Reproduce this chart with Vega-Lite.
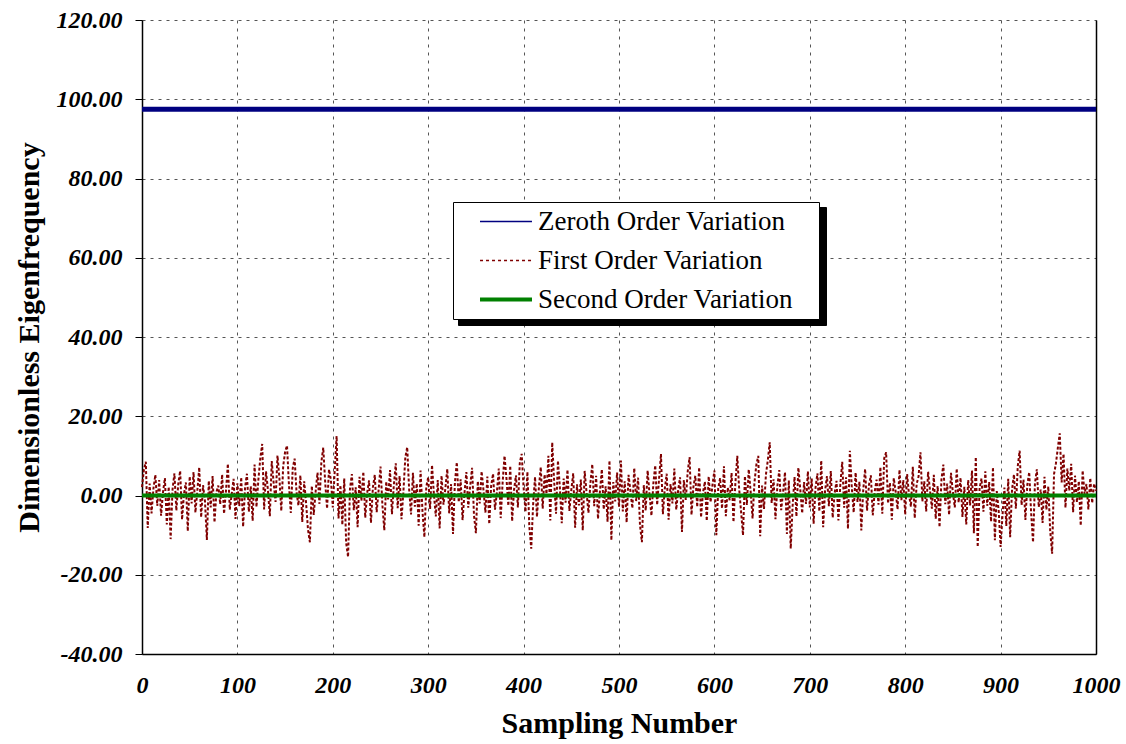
{
"$schema": "https://vega.github.io/schema/vega-lite/v6.json",
"width": 954,
"height": 634,
"autosize": {"type": "none"},
"padding": {"left": 142, "top": 20, "right": 30, "bottom": 90},
"background": "white",
"config": {"view": {"stroke": null}, "font": "Liberation Serif",
"legend": {"orient": "none", "padding": 6, "symbolType": "stroke", "symbolSize": 2700, "symbolOffset": 33.5, "symbolStrokeWidth": 2,
"labelFont": "Liberation Serif", "labelFontSize": 27, "labelColor": "black", "labelOffset": 18.5, "labelLimit": 500, "rowPadding": 11}},
"datasets": {
"first": [
{"x":0,"y":2.1},{"x":2,"y":6.5},{"x":4,"y":8.5},{"x":6,"y":-8.2},{"x":8,"y":3.0},{"x":10,"y":-4.5},{"x":12,"y":1.8},{"x":14,"y":5.2},{"x":16,"y":-2.6},{"x":18,"y":3.9},
{"x":20,"y":-5.1},{"x":22,"y":0.8},{"x":24,"y":4.4},{"x":26,"y":-7.3},{"x":28,"y":2.2},{"x":30,"y":-11.0},{"x":32,"y":1.5},{"x":34,"y":5.6},{"x":36,"y":-3.8},{"x":38,"y":2.9},
{"x":40,"y":6.2},{"x":42,"y":-6.1},{"x":44,"y":0.4},{"x":46,"y":3.3},{"x":48,"y":-9.0},{"x":50,"y":4.8},{"x":52,"y":-2.0},{"x":54,"y":5.9},{"x":56,"y":-4.3},{"x":58,"y":1.2},
{"x":60,"y":7.1},{"x":62,"y":-5.5},{"x":64,"y":2.6},{"x":66,"y":-1.4},{"x":68,"y":-11.2},{"x":70,"y":3.7},{"x":72,"y":-3.0},{"x":74,"y":4.9},{"x":76,"y":-6.8},{"x":78,"y":0.9},
{"x":80,"y":2.5},{"x":82,"y":-2.2},{"x":84,"y":5.3},{"x":86,"y":-4.6},{"x":88,"y":1.1},{"x":90,"y":8.0},{"x":92,"y":-3.6},{"x":94,"y":0.3},{"x":96,"y":4.2},{"x":98,"y":-5.9},
{"x":100,"y":3.1},{"x":102,"y":-2.7},{"x":104,"y":4.6},{"x":106,"y":-7.9},{"x":108,"y":1.9},{"x":110,"y":5.5},{"x":112,"y":-4.1},{"x":114,"y":2.3},{"x":116,"y":-6.4},{"x":118,"y":7.8},
{"x":120,"y":-2.9},{"x":122,"y":4.0},{"x":124,"y":9.4},{"x":126,"y":13.0},{"x":128,"y":-3.5},{"x":130,"y":6.1},{"x":132,"y":1.4},{"x":134,"y":-5.2},{"x":136,"y":8.7},{"x":138,"y":3.2},
{"x":140,"y":-1.6},{"x":142,"y":10.1},{"x":144,"y":4.5},{"x":146,"y":-3.9},{"x":148,"y":7.4},{"x":150,"y":11.0},{"x":152,"y":12.6},{"x":154,"y":2.8},{"x":156,"y":-4.4},{"x":158,"y":6.9},
{"x":160,"y":9.3},{"x":162,"y":0.7},{"x":164,"y":-2.5},{"x":166,"y":5.1},{"x":168,"y":-6.7},{"x":170,"y":3.6},{"x":172,"y":-1.9},{"x":174,"y":-8.6},{"x":176,"y":-11.8},{"x":178,"y":2.4},
{"x":180,"y":-4.9},{"x":182,"y":1.0},{"x":184,"y":5.8},{"x":186,"y":-2.1},{"x":188,"y":8.4},{"x":190,"y":12.1},{"x":192,"y":3.4},{"x":194,"y":-3.3},{"x":196,"y":6.6},{"x":198,"y":4.0},
{"x":200,"y":-3.0},{"x":202,"y":6.2},{"x":204,"y":15.0},{"x":206,"y":-5.8},{"x":208,"y":2.6},{"x":210,"y":-7.4},{"x":212,"y":4.3},{"x":214,"y":-12.0},{"x":216,"y":-15.5},{"x":218,"y":1.7},
{"x":220,"y":5.4},{"x":222,"y":-3.7},{"x":224,"y":2.1},{"x":226,"y":-8.0},{"x":228,"y":4.7},{"x":230,"y":-1.3},{"x":232,"y":6.0},{"x":234,"y":-5.6},{"x":236,"y":0.6},{"x":238,"y":3.8},
{"x":240,"y":-6.9},{"x":242,"y":2.0},{"x":244,"y":5.2},{"x":246,"y":-4.2},{"x":248,"y":1.3},{"x":250,"y":7.3},{"x":252,"y":-2.4},{"x":254,"y":-8.8},{"x":256,"y":3.5},{"x":258,"y":-1.0},
{"x":260,"y":6.4},{"x":262,"y":-4.7},{"x":264,"y":2.7},{"x":266,"y":8.1},{"x":268,"y":-3.2},{"x":270,"y":4.9},{"x":272,"y":-6.0},{"x":274,"y":0.9},{"x":276,"y":9.6},{"x":278,"y":12.2},
{"x":280,"y":1.6},{"x":282,"y":-4.8},{"x":284,"y":5.7},{"x":286,"y":-2.8},{"x":288,"y":3.0},{"x":290,"y":-7.6},{"x":292,"y":6.3},{"x":294,"y":-4.0},{"x":296,"y":-10.5},{"x":298,"y":2.2},
{"x":300,"y":4.6},{"x":302,"y":-3.4},{"x":304,"y":7.7},{"x":306,"y":0.2},{"x":308,"y":-5.3},{"x":310,"y":3.9},{"x":312,"y":-8.3},{"x":314,"y":5.0},{"x":316,"y":-2.3},{"x":318,"y":1.8},
{"x":320,"y":6.7},{"x":322,"y":-4.5},{"x":324,"y":2.9},{"x":326,"y":-9.7},{"x":328,"y":3.3},{"x":330,"y":8.4},{"x":332,"y":-1.7},{"x":334,"y":4.1},{"x":336,"y":-6.2},{"x":338,"y":0.5},
{"x":340,"y":5.9},{"x":342,"y":-3.1},{"x":344,"y":2.4},{"x":346,"y":7.0},{"x":348,"y":-5.0},{"x":350,"y":-9.5},{"x":352,"y":3.6},{"x":354,"y":-2.0},{"x":356,"y":6.1},{"x":358,"y":1.2},
{"x":360,"y":-4.3},{"x":362,"y":4.8},{"x":364,"y":-7.2},{"x":366,"y":2.5},{"x":368,"y":5.5},{"x":370,"y":-3.6},{"x":372,"y":0.8},{"x":374,"y":6.8},{"x":376,"y":-5.7},{"x":378,"y":3.2},
{"x":380,"y":10.0},{"x":382,"y":4.4},{"x":384,"y":-2.6},{"x":386,"y":7.5},{"x":388,"y":-6.5},{"x":390,"y":1.5},{"x":392,"y":5.1},{"x":394,"y":-3.0},{"x":396,"y":8.2},{"x":398,"y":10.5},
{"x":400,"y":2.0},{"x":402,"y":-4.1},{"x":404,"y":6.0},{"x":406,"y":-7.8},{"x":408,"y":-13.4},{"x":410,"y":-2.2},{"x":412,"y":4.7},{"x":414,"y":-5.4},{"x":416,"y":1.9},{"x":418,"y":7.2},
{"x":420,"y":-3.3},{"x":422,"y":5.3},{"x":424,"y":0.4},{"x":426,"y":10.0},{"x":428,"y":-6.3},{"x":430,"y":13.4},{"x":432,"y":3.7},{"x":434,"y":-4.6},{"x":436,"y":8.8},{"x":438,"y":2.1},
{"x":440,"y":-7.0},{"x":442,"y":4.3},{"x":444,"y":-1.8},{"x":446,"y":6.5},{"x":448,"y":-3.9},{"x":450,"y":1.4},{"x":452,"y":5.6},{"x":454,"y":-8.1},{"x":456,"y":2.8},{"x":458,"y":-2.5},
{"x":460,"y":4.0},{"x":462,"y":-8.8},{"x":464,"y":6.2},{"x":466,"y":0.7},{"x":468,"y":-4.4},{"x":470,"y":3.1},{"x":472,"y":7.9},{"x":474,"y":-2.7},{"x":476,"y":5.0},{"x":478,"y":-5.9},
{"x":480,"y":1.0},{"x":482,"y":6.6},{"x":484,"y":-3.5},{"x":486,"y":2.3},{"x":488,"y":-6.6},{"x":490,"y":8.8},{"x":492,"y":-11.3},{"x":494,"y":3.4},{"x":496,"y":-1.5},{"x":498,"y":5.8},
{"x":500,"y":-2.9},{"x":502,"y":8.8},{"x":504,"y":-4.0},{"x":506,"y":3.6},{"x":508,"y":-6.8},{"x":510,"y":5.2},{"x":512,"y":1.1},{"x":514,"y":-3.2},{"x":516,"y":6.9},{"x":518,"y":-1.4},
{"x":520,"y":4.5},{"x":522,"y":-7.5},{"x":524,"y":-11.8},{"x":526,"y":2.6},{"x":528,"y":-3.8},{"x":530,"y":6.3},{"x":532,"y":0.3},{"x":534,"y":-5.1},{"x":536,"y":3.0},{"x":538,"y":7.6},
{"x":540,"y":-2.4},{"x":542,"y":4.2},{"x":544,"y":10.5},{"x":546,"y":-4.7},{"x":548,"y":1.7},{"x":550,"y":5.5},{"x":552,"y":-6.1},{"x":554,"y":2.9},{"x":556,"y":-2.0},{"x":558,"y":6.8},
{"x":560,"y":-3.6},{"x":562,"y":1.3},{"x":564,"y":4.6},{"x":566,"y":-9.2},{"x":568,"y":3.9},{"x":570,"y":-1.1},{"x":572,"y":6.0},{"x":574,"y":9.7},{"x":576,"y":-4.9},{"x":578,"y":2.2},
{"x":580,"y":5.0},{"x":582,"y":-2.9},{"x":584,"y":7.1},{"x":586,"y":-5.5},{"x":588,"y":0.6},{"x":590,"y":3.5},{"x":592,"y":-6.4},{"x":594,"y":4.8},{"x":596,"y":-1.7},{"x":598,"y":2.7},
{"x":600,"y":6.3},{"x":602,"y":-10.0},{"x":604,"y":1.8},{"x":606,"y":4.4},{"x":608,"y":-3.3},{"x":610,"y":7.4},{"x":612,"y":-5.2},{"x":614,"y":2.0},{"x":616,"y":-1.2},{"x":618,"y":5.7},
{"x":620,"y":-6.7},{"x":622,"y":3.1},{"x":624,"y":10.0},{"x":626,"y":1.5},{"x":628,"y":-4.2},{"x":630,"y":-10.0},{"x":632,"y":4.9},{"x":634,"y":-2.4},{"x":636,"y":6.6},{"x":638,"y":0.9},
{"x":640,"y":-5.8},{"x":642,"y":3.3},{"x":644,"y":7.8},{"x":646,"y":10.0},{"x":648,"y":-10.3},{"x":650,"y":2.5},{"x":652,"y":-3.4},{"x":654,"y":5.3},{"x":656,"y":8.9},{"x":658,"y":13.4},
{"x":660,"y":-1.9},{"x":662,"y":4.1},{"x":664,"y":-6.0},{"x":666,"y":2.4},{"x":668,"y":6.4},{"x":670,"y":-3.7},{"x":672,"y":0.8},{"x":674,"y":5.9},{"x":676,"y":-9.7},{"x":678,"y":3.8},
{"x":680,"y":-13.4},{"x":682,"y":-2.6},{"x":684,"y":4.7},{"x":686,"y":-5.3},{"x":688,"y":7.0},{"x":690,"y":1.6},{"x":692,"y":-4.5},{"x":694,"y":3.4},{"x":696,"y":-2.1},{"x":698,"y":6.1},
{"x":700,"y":-3.0},{"x":702,"y":4.3},{"x":704,"y":-7.1},{"x":706,"y":2.0},{"x":708,"y":5.6},{"x":710,"y":-4.0},{"x":712,"y":8.8},{"x":714,"y":-8.0},{"x":716,"y":1.2},{"x":718,"y":4.9},
{"x":720,"y":-2.7},{"x":722,"y":6.2},{"x":724,"y":-5.6},{"x":726,"y":0.5},{"x":728,"y":3.7},{"x":730,"y":-6.3},{"x":732,"y":2.8},{"x":734,"y":8.5},{"x":736,"y":-3.1},{"x":738,"y":4.6},
{"x":740,"y":-8.4},{"x":742,"y":11.3},{"x":744,"y":2.1},{"x":746,"y":-4.3},{"x":748,"y":5.8},{"x":750,"y":-1.6},{"x":752,"y":3.5},{"x":754,"y":-8.8},{"x":756,"y":1.4},{"x":758,"y":6.7},
{"x":760,"y":-3.8},{"x":762,"y":2.6},{"x":764,"y":5.1},{"x":766,"y":-5.0},{"x":768,"y":0.9},{"x":770,"y":4.0},{"x":772,"y":-2.3},{"x":774,"y":7.2},{"x":776,"y":-4.6},{"x":778,"y":9.4},
{"x":780,"y":10.9},{"x":782,"y":-2.0},{"x":784,"y":3.2},{"x":786,"y":-6.1},{"x":788,"y":4.4},{"x":790,"y":1.0},{"x":792,"y":-3.5},{"x":794,"y":6.5},{"x":796,"y":-1.2},{"x":798,"y":3.9},
{"x":800,"y":-4.8},{"x":802,"y":5.4},{"x":804,"y":0.2},{"x":806,"y":-2.8},{"x":808,"y":7.3},{"x":810,"y":-5.7},{"x":812,"y":2.9},{"x":814,"y":4.8},{"x":816,"y":10.9},{"x":818,"y":-1.5},
{"x":820,"y":3.6},{"x":822,"y":-4.0},{"x":824,"y":6.0},{"x":826,"y":1.3},{"x":828,"y":-3.3},{"x":830,"y":5.2},{"x":832,"y":-5.9},{"x":834,"y":2.4},{"x":836,"y":-8.0},{"x":838,"y":4.1},
{"x":840,"y":7.8},{"x":842,"y":-2.2},{"x":844,"y":3.0},{"x":846,"y":-4.9},{"x":848,"y":5.7},{"x":850,"y":0.7},{"x":852,"y":-3.0},{"x":854,"y":6.8},{"x":856,"y":-1.8},{"x":858,"y":4.5},
{"x":860,"y":-5.4},{"x":862,"y":2.2},{"x":864,"y":-7.3},{"x":866,"y":3.9},{"x":868,"y":-2.5},{"x":870,"y":6.3},{"x":872,"y":-9.5},{"x":874,"y":9.7},{"x":876,"y":-13.0},{"x":878,"y":1.9},
{"x":880,"y":4.3},{"x":882,"y":-4.1},{"x":884,"y":6.1},{"x":886,"y":-2.6},{"x":888,"y":3.4},{"x":890,"y":-6.6},{"x":892,"y":7.1},{"x":894,"y":-11.3},{"x":896,"y":1.1},{"x":898,"y":-3.9},
{"x":900,"y":-13.0},{"x":902,"y":-5.0},{"x":904,"y":2.0},{"x":906,"y":-7.7},{"x":908,"y":4.2},{"x":910,"y":-10.5},{"x":912,"y":1.6},{"x":914,"y":5.3},{"x":916,"y":-3.3},{"x":918,"y":7.4},
{"x":920,"y":11.3},{"x":922,"y":-2.4},{"x":924,"y":4.0},{"x":926,"y":-6.2},{"x":928,"y":2.7},{"x":930,"y":5.9},{"x":932,"y":-4.4},{"x":934,"y":-11.8},{"x":936,"y":3.1},{"x":938,"y":6.6},
{"x":940,"y":-2.9},{"x":942,"y":1.5},{"x":944,"y":-6.9},{"x":946,"y":4.7},{"x":948,"y":-3.6},{"x":950,"y":2.3},{"x":952,"y":-9.0},{"x":954,"y":-14.7},{"x":956,"y":5.4},{"x":958,"y":8.1},
{"x":960,"y":12.0},{"x":962,"y":15.7},{"x":964,"y":3.3},{"x":966,"y":10.5},{"x":968,"y":-3.1},{"x":970,"y":6.8},{"x":972,"y":1.2},{"x":974,"y":8.0},{"x":976,"y":-4.2},{"x":978,"y":5.0},
{"x":980,"y":-1.7},{"x":982,"y":3.6},{"x":984,"y":-7.6},{"x":986,"y":6.3},{"x":988,"y":0.4},{"x":990,"y":2.9},{"x":992,"y":-3.5},{"x":994,"y":4.4},{"x":996,"y":-1.9},{"x":998,"y":3.0},
{"x":1000,"y":1.2}
],
"flat": [
{"series":"Second Order Variation","x":0,"y":0},
{"series":"Second Order Variation","x":1000,"y":0},
{"series":"Zeroth Order Variation","x":0,"y":97.5},
{"series":"Zeroth Order Variation","x":1000,"y":97.5}
]
},
"layer": [
{
"layer": [
{
"data": {"name": "first"},
"mark": {"type": "line", "strokeWidth": 2, "strokeDash": [3, 2], "interpolate": "linear"},
"encoding": {
"x": {"field": "x", "type": "quantitative",
"scale": {"domain": [0, 1000], "nice": false, "zero": false},
"axis": {"values": [0,100,200,300,400,500,600,700,800,900,1000], "format": "d", "labelFlush": false,
"title": "Sampling Number", "titleFont": "Liberation Serif", "titleFontSize": 30, "titleFontWeight": "bold", "titleColor": "black", "titlePadding": 11,
"labelFont": "Liberation Serif", "labelFontSize": 24, "labelFontWeight": "bold", "labelFontStyle": "italic", "labelColor": "black", "labelPadding": 19,
"ticks": false, "domainColor": "black", "domainWidth": 1.5,
"grid": true, "gridColor": "#555555", "gridDash": [3, 5], "gridWidth": 1}},
"y": {"field": "y", "type": "quantitative",
"scale": {"domain": [-40, 120], "nice": false, "zero": false},
"axis": {"values": [-40,-20,0,20,40,60,80,100,120], "labelExpr": "replace(format(datum.value, '.2f'), '\u2212', '-')",
"title": "Dimensionless Eigenfrequency", "titleFont": "Liberation Serif", "titleFontSize": 30, "titleFontWeight": "bold", "titleColor": "black", "titlePadding": 12,
"labelFont": "Liberation Serif", "labelFontSize": 24, "labelFontWeight": "bold", "labelFontStyle": "italic", "labelColor": "black", "labelPadding": 13,
"ticks": true, "tickSize": 7, "tickColor": "black", "domainColor": "black", "domainWidth": 1.5,
"grid": true, "gridColor": "#555555", "gridDash": [3, 5], "gridWidth": 1}},
"color": {"datum": "First Order Variation", "type": "nominal",
"scale": {"domain": ["Zeroth Order Variation", "First Order Variation", "Second Order Variation"], "range": ["#000080", "#800000", "#008000"]},
"legend": {"title": null, "legendX": 311, "legendY": 182, "zindex": 2,
"fillColor": "white", "strokeColor": "black",
"labelExpr": "trim(datum.label) + '\u2800'",
"encode": {"symbols": {"update": {
"strokeWidth": {"signal": "datum.value === 'Second Order Variation' ? 4 : 1.5"},
"strokeDash": {"signal": "datum.value === 'First Order Variation' ? [3,3] : [1,0]"}}}}}}
}
},
{
"data": {"name": "flat"},
"mark": {"type": "line"},
"encoding": {
"x": {"field": "x", "type": "quantitative"},
"y": {"field": "y", "type": "quantitative"},
"color": {"field": "series", "type": "nominal",
"legend": {"title": null, "legendX": 311, "legendY": 182, "zindex": 2,
"fillColor": "white", "strokeColor": "black",
"labelExpr": "trim(datum.label) + '\u2800'"}},
"strokeWidth": {"field": "series", "type": "nominal",
"scale": {"domain": ["Zeroth Order Variation", "Second Order Variation"], "range": [5, 4]}, "legend": null},
"order": {"field": "x"}
}
}
]
},
{
"data": {"name": "flat"},
"mark": {"type": "line", "opacity": 0},
"encoding": {
"x": {"field": "x", "type": "quantitative"},
"y": {"field": "y", "type": "quantitative",
"axis": {"orient": "right", "labels": false, "ticks": false, "grid": false, "title": null, "domain": true, "domainColor": "black", "domainWidth": 1.5}},
"color": {"datum": "First Order Variation\u00a0", "type": "nominal",
"scale": {"domain": ["Zeroth Order Variation\u00a0", "First Order Variation\u00a0", "Second Order Variation\u00a0"], "range": ["black", "black", "black"]},
"legend": {"title": null, "legendX": 316, "legendY": 187, "zindex": 1, "symbolSize": 729,
"fillColor": "black", "strokeColor": "black", "labelColor": "black",
"labelExpr": "trim(datum.label) + '\u2800'"}}
}
}
],
"resolve": {"scale": {"color": "independent"}, "axis": {"y": "independent"}}
}
